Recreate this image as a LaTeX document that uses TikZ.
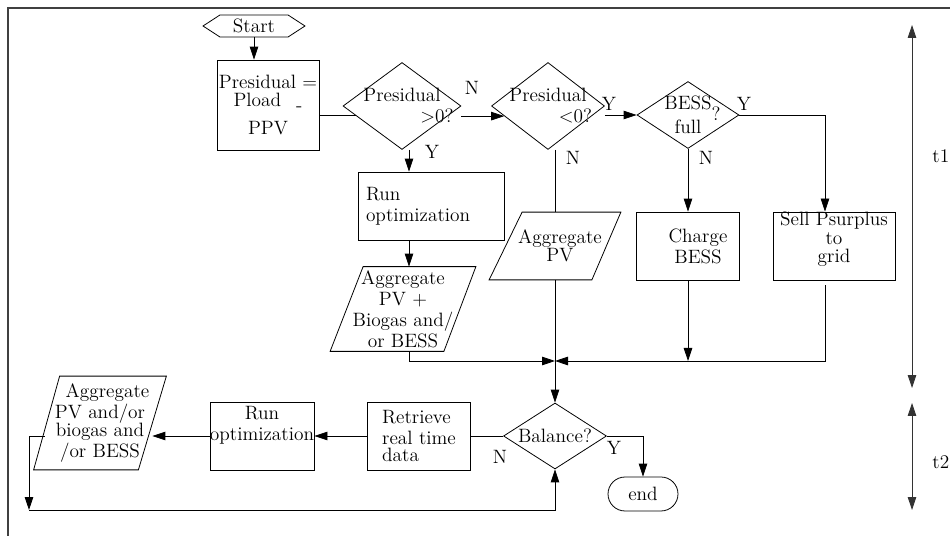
\documentclass[tikz,border=0pt]{standalone}
\usepackage{tikz}
\usetikzlibrary{arrows.meta,positioning,shapes.geometric,shapes.symbols}

\begin{document}
\begin{tikzpicture}[
        x=0.02cm, y=-0.02cm,
        >={Triangle[length=2.6mm,width=1.7mm]},
        line width=0.45pt,
        font=\fontsize{11}{12}\selectfont,
        box/.style={
            draw,
            align=center,
            inner sep=0pt,
            minimum width=#1,
            minimum height=1.36cm
        },
        box/.default=2.06cm,
        decision/.style={
            draw,
            diamond,
            inner sep=0pt
        },
        iobox/.style={
            align=center,
            inner sep=0pt,
            minimum width=#1
        },
        lbl/.style={inner sep=0pt},
        frame/.style={draw=black!75, line width=1.3pt},
        tline/.style={<->, draw=black!80}
    ]
        \useasboundingbox (0,0) rectangle (950,536);
        \draw[frame] (950,8) -- (8,8) -- (8,536);

        % upper part (t1)
        \node[draw, signal, signal to=west and east, signal pointer angle=66,
              minimum width=2.04cm, minimum height=0.44cm, inner sep=1pt] (start) at (254,26) {Start};
        \node[box=2.04cm, minimum height=1.8cm] (resid) at (268,105)
            {Presidual~=\\[-2pt]Pload\hspace{0.3cm}\raisebox{-0.6ex}{-}\\[4pt]PPV};
        \node[decision, minimum width=2.36cm, minimum height=1.74cm,
              label={[align=center]center:{Presidual\\\hspace*{1.4cm}>0?}}] (chkpos) at (402,106) {};
        \node[decision, minimum width=2.26cm, minimum height=1.74cm,
              label={[align=center]center:{Presidual\\\hspace*{1.1cm}<0?}}] (chkneg) at (548,106) {};
        \node[decision, minimum width=2.04cm, minimum height=1.34cm,
              label={[align=center]center:{BESS\rlap{\raisebox{-1.3ex}{?}}\\[-1pt]full}}] (chkfull) at (688,115) {};

        \node[box=2.92cm, align=left, text width=2.6cm] (runopt) at (431,206) {Run\\optimization};
        \node[iobox=2.9cm, minimum height=1.68cm] (aggmix) at (403,309) {Aggregate\\PV +\\Biogas and/\\or BESS};
        \draw ([xshift=0.66cm]aggmix.north west) -- (aggmix.north east)
            -- ([xshift=-0.64cm]aggmix.south east) -- (aggmix.south west) -- cycle;
        \node[iobox=2.62cm, minimum height=1.34cm] (aggpv) at (555,246) {\hspace*{0.2cm}Aggregate\\[-2pt]\hspace*{0.2cm}PV};
        \draw ([xshift=0.66cm]aggpv.north west) -- (aggpv.north east)
            -- ([xshift=-0.58cm]aggpv.south east) -- (aggpv.south west) -- cycle;
        \node[box] (charge) at (688,246) {\hspace*{0.4cm}Charge\\\hspace*{0.4cm}BESS};
        \node[box=2.44cm] (sell) at (834,246) {Sell Psurplus\\[-1pt]to\\[-2pt]grid\\[-2pt]};

        % lower part (t2)
        \node[decision, minimum width=2.06cm, minimum height=1.32cm,
              label={center:Balance?}] (balance) at (555,436) {};
        \node[draw, rounded corners=0.34cm, minimum width=1.4cm, minimum height=0.68cm] (stop) at (643,494) {end};
        \node[box, align=left] (fetch) at (419,436) {Retrieve\\real time\\[-2pt]data};
        \node[box=2.04cm] (rerun) at (262,436) {Run\\optimization\\[2pt]};
        \node[iobox=2.64cm, minimum height=1.86cm] (aggall) at (100,423)
            {\hspace*{0.3cm}Aggregate\\PV and/or\\[-2pt]biogas and\\/or BESS};
        \draw ([xshift=0.52cm]aggall.north west) -- (aggall.north east)
            -- ([xshift=-0.56cm]aggall.south east) -- (aggall.south west) -- cycle;

        \coordinate (colA) at (409,0);
        \coordinate (colC) at (825,0);
        \coordinate (join) at (555,361);
        \coordinate (back) at (29,510);

        \draw[->] (start.south) -- (start.south |- resid.north);
        \draw (resid.east |- chkpos.192) -- (chkpos.192);
        \draw[->] (chkpos.east |- chkneg.193) -- (chkneg.193);
        \draw[->] (chkneg.east |- chkfull.west) -- (chkfull.west);
        \draw[->] (chkfull.east) -| (colC |- sell.north);
        \draw[->] (chkfull.south) -- (charge.north);
        \draw[->] (chkpos.south -| colA) -- (colA |- runopt.north);
        \draw[->] (colA |- runopt.south) -- (colA |- aggmix.north);
        \draw (chkneg.south -| aggpv.north) -- (aggpv.north);
        \draw[->] (aggpv.south) -- (balance.north);
        \draw[->] (aggmix.south -| colA) |- (join);
        \draw[->] (colC |- sell.south) ++(0,5) |- (join);
        \draw[->] (charge.south) -- (charge.south |- join);

        \draw[->] (balance.east) -| (stop.north);
        \draw (balance.west) -- (fetch.east);
        \draw[->] (fetch.west) -- (rerun.east);
        \draw[->] (rerun.west) -- ([xshift=-0.28cm]aggall.east |- rerun.west);
        \draw[->] ([xshift=0.22cm]aggall.west |- rerun.west) -| (back);
        \draw[->] (back) -| (balance.south);

        \node[lbl] (n1) at (472,88) {N};
        \node[lbl] (y1) at (432,152) {Y};
        \node[lbl] (y2) at (609,104) {Y};
        \node[lbl] (n2) at (573,158) {N};
        \node[lbl] (y3) at (744,104) {Y};
        \node[lbl] (n3) at (706,158) {N};
        \node[lbl] (n4) at (500,457) {N};
        \node[lbl] (y4) at (614,448) {Y};

        % time spans
        \coordinate (t1a) at (912,25);
        \coordinate (t1b) at (912,388);
        \coordinate (t2a) at (912,403);
        \coordinate (t2b) at (912,510);
        \draw[tline] (t1a) -- node[pos=0.36, right=0.4cm, lbl] (t1) {t1} (t1b);
        \draw[tline] (t2a) -- node[pos=0.55, right=0.4cm, lbl] (t2) {t2} (t2b);
    \end{tikzpicture}
\end{document}
